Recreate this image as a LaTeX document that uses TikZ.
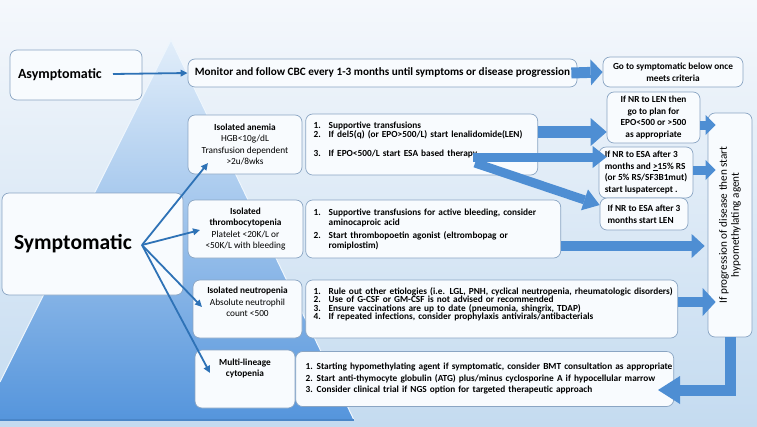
\documentclass[tikz,border=0pt]{standalone}
\usepackage{fontspec}
\setmainfont{Carlito}
\usepackage{tikz}
\usetikzlibrary{positioning}
\usetikzlibrary{arrows.meta}

\definecolor{bgtop}{HTML}{F5F8FC}
\definecolor{bgbot}{HTML}{C4DBF0}
\definecolor{pyrtop}{HTML}{E2EEFA}
\definecolor{pyrmid}{HTML}{A2C8EE}
\definecolor{pyrbot}{HTML}{5595DC}
\definecolor{pyredge}{HTML}{EEF6FD}
\definecolor{pyrbase}{HTML}{4A86C8}
\definecolor{boxline}{HTML}{8AA5C3}
\definecolor{boxfill}{HTML}{F8FBFE}
\definecolor{barrow}{HTML}{4E8ED3}
\definecolor{tarrow}{HTML}{2E72B6}

\newcommand{\li}[3][15pt]{\mbox{\makebox[#1][l]{#2}#3}}

\begin{document}
\begin{tikzpicture}[x=1pt,y=-1pt,
  box/.style={draw=boxline,fill=boxfill,rounded corners=7pt,line width=0.7pt,inner sep=0pt},
  side/.style={box,align=center,font=\fontsize{9.3}{11.2}\selectfont},
  treat/.style={box,align=left,inner xsep=8pt,font=\fontsize{9.3}{9}\selectfont\bfseries},
  small/.style={box,font=\fontsize{9.3}{11.6}\selectfont\bfseries},
  thin/.style={draw=tarrow,line width=1.8pt,-{Triangle[length=7pt,width=6.5pt]}},
  blk/.style n args={3}{draw=barrow,line width=#1pt,line join=miter,
    -{Triangle[length=#3pt,width=#2pt,line width=0pt]}}]

  \useasboundingbox (0,0) rectangle (757,426);
  \shade[top color=bgtop,bottom color=bgbot] (0,0) rectangle (757,426);
  \shade[top color=pyrtop,middle color=pyrmid,bottom color=pyrbot]
    (171,40) -- (354,420) -- (0,420) -- (0,382) -- cycle;
  \draw[pyredge,line width=1pt] (0,382) -- (171,40) -- (354,420);
  \draw[pyrbase,line width=1.5pt] (0,420) -- (354,420);

  \node[box,minimum width=132pt,minimum height=50pt,text width=116pt,inner xsep=8pt,
    align=left,font=\fontsize{14}{16}\selectfont\bfseries] (Asy) at (76,75) {Asymptomatic};
  \node[box,minimum height=102pt,text width=157pt,inner xsep=12pt,
    align=left,font=\fontsize{21.6}{24}\selectfont\bfseries] (Sym) at (92.5,244) {Symptomatic};

  \node[box,minimum width=389pt,minimum height=28pt,font=\fontsize{11.2}{13}\selectfont\bfseries]
    (Mon) at (382.5,73) {Monitor and follow CBC every 1-3 months until symptoms or disease progression};
  \node[small,align=center,minimum width=140pt,minimum height=30pt] (Go) at (673,72)
    {Go to symptomatic below once\\meets criteria};

  \node[side,minimum width=114pt,minimum height=59pt] (An) at (245,144.5)
    {\textbf{Isolated anemia}\\HGB<10g/dL\\Transfusion dependent\\>2u/8wks};
  \node[side,minimum width=115pt,minimum height=58pt] (Th) at (245.5,229)
    {\textbf{Isolated}\\\textbf{thrombocytopenia}\\Platelet <20K/L or\\<50K/L with bleeding};
  \node[side,minimum width=109pt,minimum height=58pt] (Ne) at (247.5,309)
    {\textbf{Isolated neutropenia}\\Absolute neutrophil\\count <500\\[3pt]\mbox{}};
  \node[side,minimum width=100pt,minimum height=58pt] (Mu) at (245,379)
    {\textbf{Multi-lineage}\\\textbf{cytopenia}\\[12pt]\mbox{}};

  \node[treat,right=3pt of An,text width=216pt,minimum height=61pt] (AnT)
    {\li{1.}{Supportive transfusions}\\
     \li{2.}{If del5(q) (or EPO>500/L) start lenalidomide(LEN)}\\[10pt]
     \li{3.}{If EPO<500/L start ESA based therapy}\\[2pt]\mbox{}};
  \node[treat,right=2pt of Th,text width=239pt,minimum height=58pt,
    font=\fontsize{9.3}{10}\selectfont\bfseries] (ThT)
    {\li{1.}{Supportive transfusions for active bleeding, consider}\\
     \li{}{aminocaproic acid}\\[3pt]
     \li{2.}{Start thrombopoetin agonist (eltrombopag or}\\
     \li{}{romiplostim)}};
  \node[treat,right=3pt of Ne,text width=356pt,minimum height=58pt,
    font=\fontsize{9.3}{8.4}\selectfont\bfseries] (NeT)
    {\li{1.}{Rule out other etiologies (i.e. LGL, PNH, cyclical neutropenia, rheumatologic disorders)}\\
     \li{2.}{Use of G-CSF or GM-CSF is not advised or recommended}\\
     \li{3.}{Ensure vaccinations are up to date (pneumonia, shingrix, TDAP)}\\
     \li{4.}{If repeated infections, consider prophylaxis antivirals/antibacterials}\\[2.8pt]\mbox{}};
  \node[treat,right=0pt of Mu,text width=358pt,inner xsep=10pt,minimum height=55pt,
    font=\fontsize{9.3}{11.5}\selectfont\bfseries] (MuT)
    {\li[11pt]{1.}{Starting hypomethylating agent if symptomatic, consider BMT consultation as appropriate}\\
     \li[11pt]{2.}{Start anti-thymocyte globulin (ATG) plus/minus cyclosporine A if hypocellular marrow}\\
     \li[11pt]{3.}{Consider clinical trial if NGS option for targeted therapeutic approach}};

  \node[small,align=center,minimum width=93pt,minimum height=51pt] (Len) at (653.5,117.5)
    {If NR to LEN then\\go to plan for\\EPO<500 or >500\\as appropriate};
  \node[small,align=left,minimum width=94pt,minimum height=51pt] (Lus) at (646,172.5)
    {If NR to ESA after 3\\months and \underline{>}15\% RS\\(or 5\% RS/SF3B1mut)\\start luspatercept .};
  \node[small,align=left,minimum width=88pt,minimum height=32pt] (Esa) at (644,214)
    {If NR to ESA after 3\\months start LEN};

  \node[box,rotate=90,minimum width=224pt,minimum height=44pt,align=center,
    font=\fontsize{11.2}{12}\selectfont] (Vert) at (730,225)
    {If progression of disease then start\\hypomethylating agent};

  \coordinate (Ao) at (113,74);
  \coordinate (So) at (142,245);
  \coordinate (tAn) at (208,163);
  \coordinate (tTh) at (200,230);
  \coordinate (tNe) at (202,307);
  \coordinate (tMu) at (210,373);
  \coordinate (Es1) at (473,157);
  \coordinate (Es2) at (475,163);
  \coordinate (LusT) at ([xshift=8pt]Lus.west);
  \coordinate (VL) at ([xshift=8pt]Vert.north);
  \coordinate (VL2) at ([xshift=-3pt]Vert.north);
  \coordinate (Mtip) at (658,390);

  \draw[thin] (Ao) -- (Mon.west);
  \draw[thin] (So) -- (tAn);
  \draw[thin] (So) -- (tTh);
  \draw[thin] (So) -- (tNe);
  \draw[thin] (So) -- (tMu);

  \draw[blk={11}{26}{12}] ([xshift=-6pt]Mon.east) -- (Go.west);
  \draw[blk={12}{28}{16}] (AnT.east |- 0,132) -- (Len.west |- 0,132);
  \draw[blk={9}{22}{14}] (Es1) -- (LusT |- Es1);
  \draw[blk={9}{22}{16}] (Es2) -- ([yshift=9pt]Esa.west);
  \draw[blk={9}{20}{10}] (Len.east |- 0,125) -- (VL |- 0,125);
  \draw[blk={9}{20}{10}] (Lus.east |- 0,170) -- (VL |- 0,170);
  \draw[blk={10}{24}{13}] (ThT.east |- 0,246) -- (VL2 |- 0,246);
  \draw[blk={10}{28}{13}] (NeT.east |- 0,302) -- (VL |- 0,302);
  \draw[blk={11}{28}{22}] (Vert.west) |- (Mtip);
\end{tikzpicture}
\end{document}
